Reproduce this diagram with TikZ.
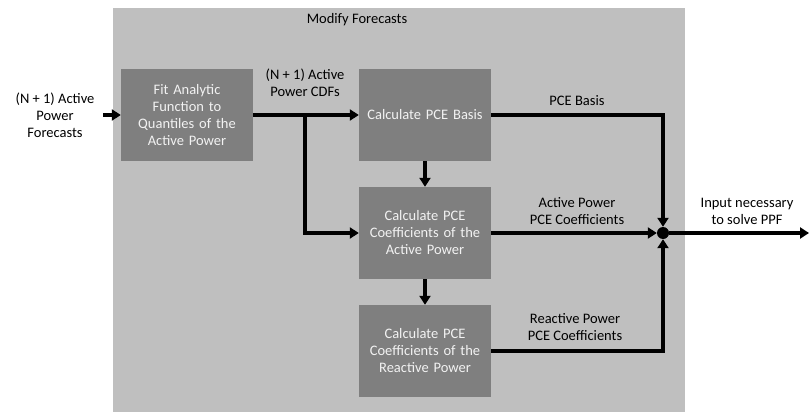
\documentclass[tikz,border=0pt]{standalone}
\usepackage{fontspec}
\setmainfont{Carlito}
\usetikzlibrary{arrows.meta}
\definecolor{panelgray}{HTML}{BFBFBF}
\definecolor{stepgray}{HTML}{7F7F7F}
\definecolor{steptext}{HTML}{F2F2F2}
\tikzset{
  stepbox/.style={fill=stepgray,text=steptext,minimum width=132pt,minimum height=92pt,
    text width=124pt,align=center,inner sep=0pt},
  flow/.style={line width=3.5pt,-{Triangle[length=9pt,width=11pt]}},
  lbl/.style={align=center},
}
\begin{document}
\begin{tikzpicture}[x=1pt,y=-1pt,font=\fontsize{14.5}{17}\selectfont]
                \useasboundingbox (0,0) rectangle (810,414);
                %% modify forecasts panel
                \fill[panelgray] (113,8) rectangle (685,412);
                \node[lbl] (title) at (357,20) {Modify Forecasts};
                %% processing steps
                \node[stepbox] (fit) at (187,115) {Fit Analytic\\Function to\\Quantiles of the\\Active Power};
                \node[stepbox] (basis) at (425,115) {Calculate PCE Basis};
                \node[stepbox] (actcoef) at (425,233) {Calculate PCE\\Coefficients of the\\Active Power};
                \node[stepbox] (reactcoef) at (425,351) {Calculate PCE\\Coefficients of the\\Reactive Power};
                %% junction
                \node[circle,fill=black,inner sep=0pt,minimum size=12pt] (join) at (663,233) {};
                \coordinate (in) at (103,115);
                \coordinate (split) at (305,115);
                \coordinate (out) at (809,233);
                %% input
                \node[lbl] (forecasts) at (55,115) {(N + 1) Active\\Power\\Forecasts};
                \draw[flow] (in) -- (fit.west);
                %% cdfs
                \draw[flow] (fit.east) -- (basis.west);
                \node[lbl] (cdfs) at (305,83) {(N + 1) Active\\Power CDFs};
                \draw[flow] (split) |- (actcoef.west);
                \draw[flow] (basis.south) -- (actcoef.north);
                \draw[flow] (actcoef.south) -- (reactcoef.north);
                %% outputs to junction
                \draw[flow] (basis.east) -| (join.north);
                \node[lbl] (basislbl) at (577,101) {PCE Basis};
                \draw[flow] (actcoef.east) -- (join.west);
                \node[lbl] (actlbl) at (577,211) {Active Power\\PCE Coefficients};
                \draw[flow] (reactcoef.east) -| (join.south);
                \node[lbl] (reactlbl) at (575,327) {Reactive Power\\PCE Coefficients};
                %% result
                \draw[flow] (join.east) -- (out);
                \node[lbl] (result) at (747,211) {Input necessary\\to solve PPF};
            \end{tikzpicture}
\end{document}
